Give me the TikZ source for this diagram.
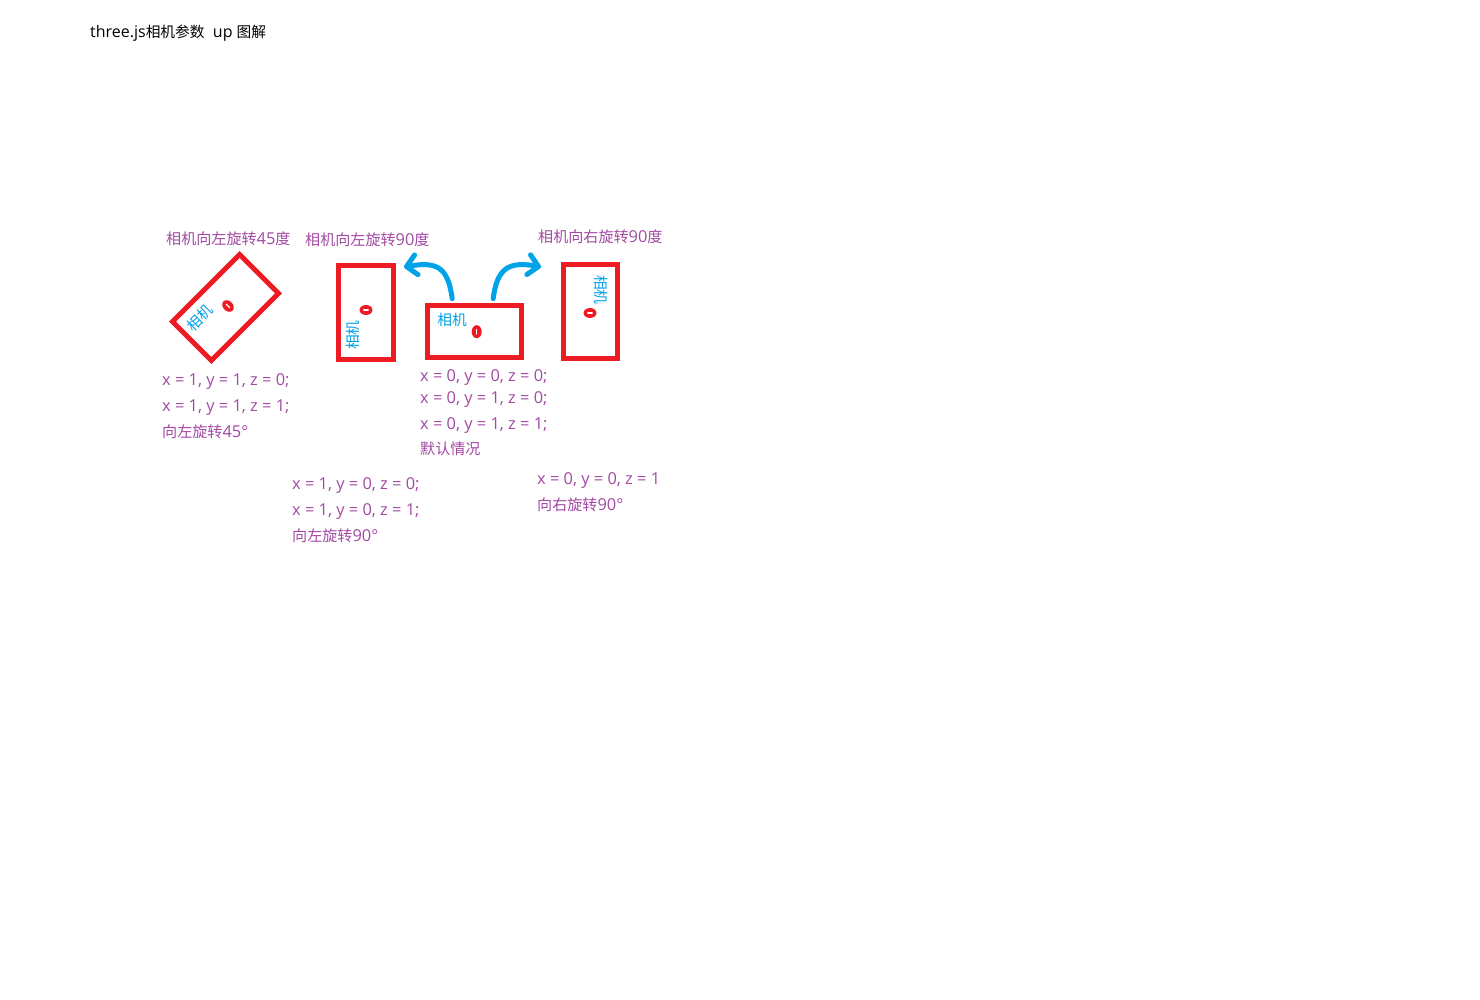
\documentclass[tikz,border=0pt]{standalone}
\usepackage{fontspec}
\setmainfont{Open Sans}
\newfontfamily\cjk[Scale=0.92]{Noto Sans CJK SC}
\usetikzlibrary{arrows.meta,shapes.geometric}
\definecolor{pred}{HTML}{ED1C24}
\definecolor{pblue}{HTML}{00A2E8}
\definecolor{ppurple}{HTML}{A349A4}
\tikzset{
  lbl/.style={anchor=base west, inner sep=0pt, text=ppurple, font=\fontsize{16.4}{19}\selectfont},
  ttl/.style={anchor=base west, inner sep=0pt, text=black, font=\fontsize{16}{19}\selectfont},
  cam/.style={draw=pred, line width=5pt, inner sep=0pt},
  camtxt/.style={text=pblue, inner sep=0pt, font=\cjk\fontsize{16}{19}\selectfont},
  camdot/.style={ellipse, fill=pred, inner sep=0pt, minimum width=13pt, minimum height=10pt,
    path picture={\draw[white, line width=1.4pt, line cap=round]
      ([xshift=-2.2pt]path picture bounding box.center) -- ([xshift=2.2pt]path picture bounding box.center);}},
  camdotv/.style={ellipse, fill=pred, inner sep=0pt, minimum width=10pt, minimum height=13pt,
    path picture={\draw[white, line width=1.4pt, line cap=round]
      ([yshift=-2.2pt]path picture bounding box.center) -- ([yshift=2.2pt]path picture bounding box.center);}},
  uparrow/.style={draw=pblue, line width=5pt, line cap=round,
    -{Straight Barb[length=10pt, width=20pt, round]}}
}
\begin{document}
\begin{tikzpicture}[x=1pt, y=-1pt]
\useasboundingbox[fill=white] (0,0) rectangle (1480,1000);

% title
\node[ttl] (title) at (90,37.5) {three.js{\cjk 相机参数}\ \ up {\cjk 图解}};

% cameras
\node[cam, minimum width=95pt, minimum height=55pt, rotate=45] (c45) at (225.5,307.5) {};
\node[cam, minimum width=54.7pt, minimum height=94pt] (c90l) at (365.9,312.2) {};
\node[cam, minimum width=94.3pt, minimum height=52.3pt] (c0) at (474.7,331.3) {};
\node[cam, minimum width=54pt, minimum height=94pt] (c90r) at (590.2,311.2) {};

% camera labels
\node[camtxt, rotate=45] (c45t) at (200,318) {相机};
\node[camtxt, rotate=90] (c90lt) at (353,335) {相机};
\node[camtxt] (c0t) at (452,320) {相机};
\node[camtxt, rotate=-90] (c90rt) at (601,290) {相机};

% dots
\node[camdot, rotate=-45] (d45) at (228,306) {};
\node[camdot] (d90l) at (366,310) {};
\node[camdotv] (d0) at (476.7,331.7) {};
\node[camdot] (d90r) at (590,313) {};

% arrows
\coordinate (ltip) at (404,267);
\coordinate (rtip) at (541,267);
\draw[uparrow] ([xshift=-22.5pt,yshift=4pt]c0.north) .. controls (448,268) and (438,261) .. (ltip);
\draw[uparrow] ([xshift=18.5pt,yshift=4pt]c0.north) .. controls (497,268) and (509,261) .. (rtip);

% headings
\node[lbl] (h45) at (166,244.5) {{\cjk 相机向左旋转}45{\cjk 度}};
\node[lbl] (h90l) at (305,245.5) {{\cjk 相机向左旋转}90{\cjk 度}};
\node[lbl] (h90r) at (538,242.5) {{\cjk 相机向右旋转}90{\cjk 度}};

% left block
\node[lbl] (l1) at (162,385.5) {x = 1, y = 1, z = 0;};
\node[lbl] (l2) at (162,411.5) {x = 1, y = 1, z = 1;};
\node[lbl] (l3) at (162,437.5) {{\cjk 向左旋转}45°};

% center block
\node[lbl] (m1) at (420,381.5) {x = 0, y = 0, z = 0;};
\node[lbl] (m2) at (420,403.5) {x = 0, y = 1, z = 0;};
\node[lbl] (m3) at (420,429.5) {x = 0, y = 1, z = 1;};
\node[lbl] (m4) at (420,454.5) {{\cjk 默认情况}};

% bottom middle block
\node[lbl] (b1) at (292,489.5) {x = 1, y = 0, z = 0;};
\node[lbl] (b2) at (292,515.5) {x = 1, y = 0, z = 1;};
\node[lbl] (b3) at (292,541.5) {{\cjk 向左旋转}90°};

% right block
\node[lbl] (r1) at (537,484.5) {x = 0, y = 0, z = 1};
\node[lbl] (r2) at (537,510.5) {{\cjk 向右旋转}90°};
\end{tikzpicture}
\end{document}
